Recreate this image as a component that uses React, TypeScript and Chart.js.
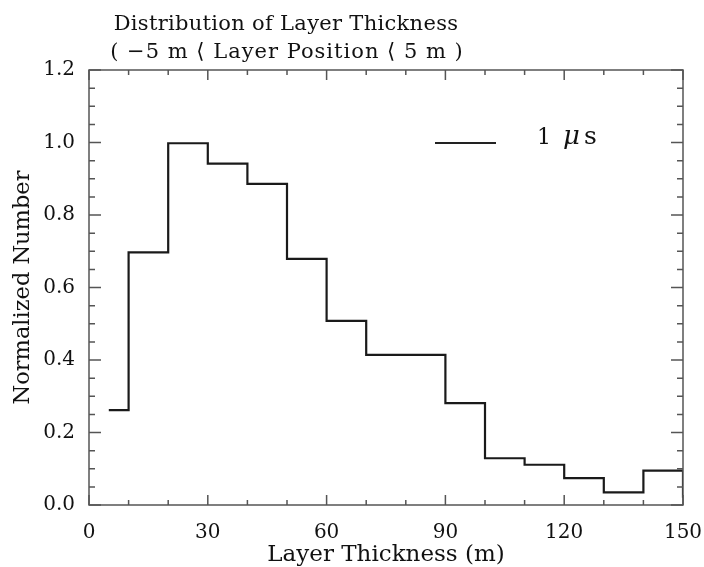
import React, { useEffect, useRef } from "react";
import { Chart, registerables } from "chart.js";

Chart.register(...registerables);

const binStarts = [5, 10, 20, 30, 40, 50, 60, 70, 80, 90, 100, 110, 120, 130, 140, 150];
const binValues = [0.262, 0.697, 0.998, 0.942, 0.886, 0.679, 0.508, 0.414, 0.414, 0.281, 0.129, 0.111, 0.074, 0.035, 0.095, 0.02];
const xTickValues = [0, 30, 60, 90, 120, 150];
const yTickValues = [0, 0.2, 0.4, 0.6, 0.8, 1.0, 1.2];
const titleLines = ["Distribution of Layer Thickness", "( \u22125 m \u27E8 Layer Position \u27E8 5 m )"];
const legendLabel = "1";
const legendUnit = "\u03BCs";
const xTitle = "Layer Thickness (m)";
const yTitle = "Normalized Number";

const FONT = "'DejaVu Serif', serif";
const AXIS_COLOR = "#555";

const framePlugin = {
  id: "frame",
  afterDatasetsDraw(chart: any) {
    const { ctx, chartArea: a, scales } = chart;
    const x = scales.x, y = scales.y;
    ctx.save();
    ctx.strokeStyle = AXIS_COLOR;
    ctx.lineWidth = 1.5;
    ctx.strokeRect(a.left, a.top, a.right - a.left, a.bottom - a.top);
    ctx.beginPath();
    for (let v = 0; v <= 150.001; v += 10) {
      const px = x.getPixelForValue(v);
      const len = Math.round(v) % 30 === 0 ? 10 : 5;
      ctx.moveTo(px, a.bottom); ctx.lineTo(px, a.bottom - len);
      ctx.moveTo(px, a.top); ctx.lineTo(px, a.top + len);
    }
    for (let i = 0; i <= 24; i++) {
      const v = i * 0.05;
      const py = y.getPixelForValue(v);
      const len = i % 4 === 0 ? 12 : 6;
      ctx.moveTo(a.left, py); ctx.lineTo(a.left + len, py);
      ctx.moveTo(a.right, py); ctx.lineTo(a.right - len, py);
    }
    ctx.stroke();

    // title
    ctx.fillStyle = "#111";
    ctx.textAlign = "center";
    ctx.textBaseline = "alphabetic";
    ctx.font = `21px ${FONT}`;
    (ctx as any).letterSpacing = "0.3px";
    ctx.fillText(titleLines[0], 286, 30);
    (ctx as any).letterSpacing = "1px";
    ctx.fillText(titleLines[1], 287, 58);
    (ctx as any).letterSpacing = "0px";

    // legend
    ctx.strokeStyle = "#222";
    ctx.lineWidth = 2;
    ctx.beginPath();
    ctx.moveTo(435, 143);
    ctx.lineTo(496, 143);
    ctx.stroke();
    ctx.textAlign = "left";
    ctx.font = `22px ${FONT}`;
    ctx.fillText(legendLabel, 537, 144);
    ctx.font = `italic 26px ${FONT}`;
    ctx.fillText(legendUnit.charAt(0), 563, 144);
    ctx.font = `25px ${FONT}`;
    ctx.fillText(legendUnit.slice(1), 584, 144);
    ctx.restore();
  },
};

export default function App() {
  const ref = useRef<HTMLCanvasElement>(null);
  useEffect(() => {
    const data = binStarts.map((x, i) => ({ x, y: binValues[i] }));
    const chart = new Chart(ref.current!, {
      type: "line",
      data: {
        datasets: [
          {
            label: "1 \u03BCs",
            data,
            stepped: "before",
            borderColor: "#1a1a1a",
            borderWidth: 2.2,
            pointRadius: 0,
            fill: false,
          },
        ],
      },
      options: {
        animation: false,
        responsive: false,
        layout: { padding: { top: 70, right: 21, left: 0, bottom: 0 } },
        plugins: { legend: { display: false }, title: { display: false }, tooltip: { enabled: false } },
        scales: {
          x: {
            type: "linear",
            min: 0,
            max: 150,
            afterFit: (s: any) => { s.height = 62; s.paddingLeft = 0; s.paddingRight = 0; },
            afterBuildTicks: (s: any) => { s.ticks = xTickValues.map((v) => ({ value: v })); },
            grid: { display: false },
            border: { display: false },
            ticks: { color: "#111", font: { family: FONT, size: 20 }, padding: 8, maxRotation: 0 },
            title: { display: true, text: xTitle, color: "#111", font: { family: FONT, size: 23, lineHeight: 1 }, padding: { top: 0, bottom: 0 } },
          },
          y: {
            min: 0,
            max: 1.2,
            afterFit: (s: any) => { s.width = 89; s.paddingTop = 0; s.paddingBottom = 0; },
            afterBuildTicks: (s: any) => { s.ticks = yTickValues.map((v) => ({ value: v })); },
            grid: { display: false },
            border: { display: false },
            ticks: { color: "#111", font: { family: FONT, size: 20 }, padding: 6, callback: (v: any) => Number(v).toFixed(1) },
            title: { display: true, text: yTitle, color: "#111", font: { family: FONT, size: 22.5, lineHeight: 1.2 }, padding: { top: 10, bottom: 0 } },
          },
        },
      },
      plugins: [framePlugin],
    });
    return () => chart.destroy();
  }, []);
  return (
    <div style={{ position: "fixed", left: 0, top: 0, width: 704, height: 567, background: "#fff" }}>
      <canvas ref={ref} width={704} height={567} style={{ width: 704, height: 567 }} />
    </div>
  );
}
